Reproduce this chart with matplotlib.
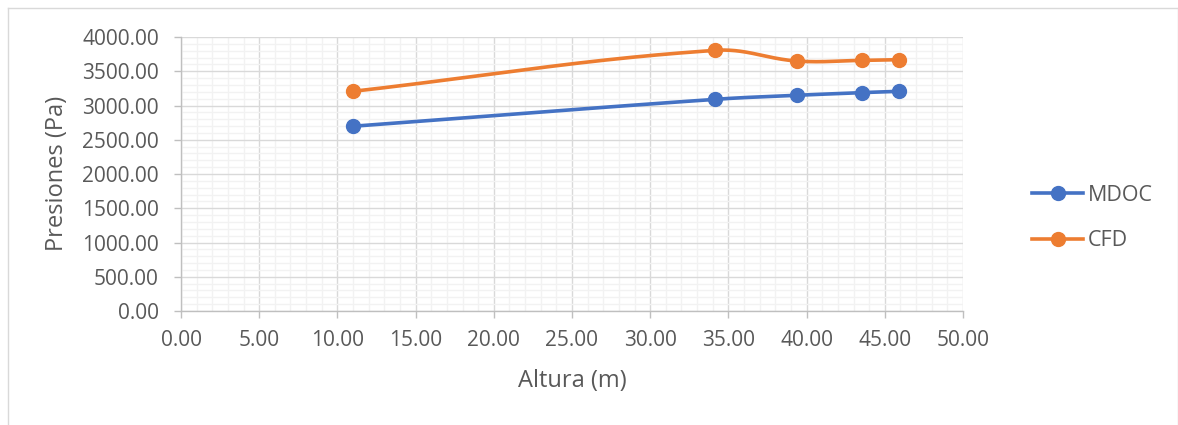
import numpy as np
import matplotlib
matplotlib.use("Agg")
import matplotlib.pyplot as plt
from matplotlib.lines import Line2D
from matplotlib.ticker import MultipleLocator, FormatStrFormatter

# Heights (m) and pressures (Pa)
altura = [11.0, 34.15, 39.4, 43.55, 45.9]
mdoc = [2697, 3090, 3149, 3188, 3207]
cfd = [3207, 3805, 3649, 3659, 3669]
series_names = ["MDOC", "CFD"]
series_colors = ["#4472C4", "#ED7D31"]

TEXT = "#595959"
plt.rcParams["font.family"] = ["Open Sans", "DejaVu Sans"]


def smooth(ax, xs, ys, n=80, k=0.38):
    """Smooth Bezier curve through the points, built in screen space.

    The tangent at each point follows its two neighbours; the control
    handle on each side is proportional to that side's segment length.
    """
    p = ax.transData.transform(np.column_stack([xs, ys]).astype(float))
    m = len(p)
    dirs = []
    for i in range(m):
        a = p[max(i - 1, 0)]
        b = p[min(i + 1, m - 1)]
        d = b - a
        dirs.append(d / np.hypot(*d))
    t = np.linspace(0, 1, n)[:, None]
    out = []
    for i in range(m - 1):
        p1, p2 = p[i], p[i + 1]
        L = np.hypot(*(p2 - p1))
        c1 = p1 + dirs[i] * L * k
        c2 = p2 - dirs[i + 1] * L * k
        seg = ((1 - t) ** 3) * p1 + 3 * ((1 - t) ** 2) * t * c1 \
            + 3 * (1 - t) * t ** 2 * c2 + t ** 3 * p2
        out.append(seg if i == 0 else seg[1:])
    pts = ax.transData.inverted().transform(np.vstack(out))
    return pts[:, 0], pts[:, 1]


W, H = 1178, 425
fig = plt.figure(figsize=(W / 100, H / 100), dpi=100)
fig.patch.set_facecolor("white")

# Chart-area border (left, top, right)
bx0, bx1, by = 7.5 / W, 1177.5 / W, 1 - 7.5 / H
for xs_, ys_ in [([bx0, bx0], [0, by]), ([bx0, bx1], [by, by]), ([bx1, bx1], [by, 0])]:
    fig.add_artist(Line2D(xs_, ys_, color="#d9d9d9", lw=1.0, transform=fig.transFigure))

left, right, top, bottom = 181, 963, 37, 311
ax = fig.add_axes([left / W, 1 - bottom / H, (right - left) / W, (bottom - top) / H])

ax.set_xlim(0, 50)
ax.set_ylim(0, 4000)
ax.xaxis.set_major_locator(MultipleLocator(5))
ax.xaxis.set_minor_locator(MultipleLocator(1))
ax.yaxis.set_major_locator(MultipleLocator(500))
ax.yaxis.set_minor_locator(MultipleLocator(100))
ax.xaxis.set_major_formatter(FormatStrFormatter("%.2f"))
ax.yaxis.set_major_formatter(FormatStrFormatter("%.2f"))

ax.grid(which="minor", color="#f2f2f2", lw=1.0, zorder=0)
ax.grid(which="major", color="#d9d9d9", lw=1.0, zorder=0.5)
ax.set_axisbelow(True)

for side in ["top", "right"]:
    ax.spines[side].set_visible(False)
for side in ["left", "bottom"]:
    ax.spines[side].set_color("#bfbfbf")
    ax.spines[side].set_linewidth(1.0)

ax.tick_params(which="major", direction="out", length=5, width=1.0, color="#bfbfbf",
               labelsize=15, labelcolor=TEXT)
ax.tick_params(axis="y", pad=11)
ax.tick_params(axis="x", pad=9)
ax.tick_params(which="minor", length=0)

handles = []
for name, vals, col in zip(series_names, [mdoc, cfd], series_colors):
    sx, sy = smooth(ax, altura, vals)
    ax.plot(sx, sy, color=col, lw=2.6, solid_capstyle="round", zorder=3)
    ax.plot(altura, vals, linestyle="none", marker="o", ms=10, color=col, zorder=4)
    handles.append(Line2D([], [], color=col, lw=2.6, marker="o", ms=10, label=name))

fig.text(57 / W, 1 - 173 / H, "Presiones (Pa)", rotation=90, ha="center", va="center",
         fontsize=17, color=TEXT)
fig.text(572 / W, 1 - 381 / H, "Altura (m)", ha="center", va="center",
         fontsize=17, color=TEXT)

fig.legend(handles=handles, loc="center left", bbox_to_anchor=(1021 / W, 1 - 218 / H),
           frameon=False, fontsize=15.5, labelcolor=TEXT, handlelength=2.4,
           handletextpad=0.2, labelspacing=1.12, borderpad=0)

fig.savefig("out.png", dpi=100)
